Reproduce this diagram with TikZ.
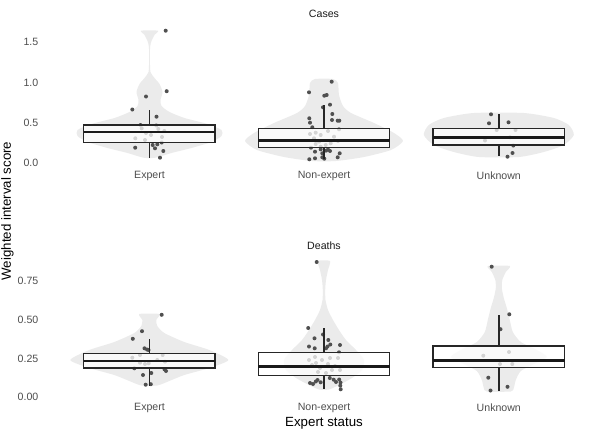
\documentclass[tikz,border=0pt]{standalone}
\usepackage{fontspec}
\setmainfont{Liberation Sans}
\definecolor{violcol}{HTML}{EBEBEB}
\definecolor{ptcol}{HTML}{505050}
\definecolor{tickcol}{HTML}{4D4D4D}
\definecolor{boxcol}{HTML}{262626}
\tikzset{
  violin/.style={fill=violcol},
  pt/.style={fill=ptcol},
  whisk/.style={draw=boxcol, line width=1.5pt},
  bx/.style={draw=boxcol, line width=1.4pt, fill=white, fill opacity=0.75},
  med/.style={draw=black!90, line width=2.5pt},
  ticklab/.style={font=\fontsize{10.6}{12}\selectfont, text=tickcol, inner sep=0pt},
  striplab/.style={font=\fontsize{10.6}{12}\selectfont, text=black!90, inner sep=0pt},
  axtitle/.style={font=\fontsize{13.3}{15}\selectfont, text=black, inner sep=0pt}
}
\newcommand\pts[1]{\foreach \p in {#1} {\fill[pt] \p circle[radius=2pt];}}
\newcommand\bxp[6]{%
  \draw[whisk] (#1,#2) -- (#1,#3);
  \draw[whisk] (#1,#5) -- (#1,#6);
  \path[bx] ({#1-65.7},#3) rectangle ({#1+65.7},#5);
  \draw[med] ({#1-65.7},#4) -- ({#1+65.7},#4);}
\begin{document}
\begin{tikzpicture}[x=1pt,y=-1pt]
\useasboundingbox (0,0) rectangle (602,436);

% ---------- violins: Cases ----------
\begin{scope}[shift={(149.5,0)}]
\fill[violin] plot[smooth cycle, tension=0.4] coordinates {
(8.5,30.7) (5,35) (2,41) (0.6,47) (0.4,60) (1,72) (5,78) (10,84) (13,92) (11,100) (12,106) (20,112) (35,118) (58,124) (72,130) (72,136) (62,142) (42,148) (22,153) (6,157.7)
(-6,157.7) (-22,153) (-42,148) (-62,142) (-72,136) (-72,130) (-58,124) (-35,118) (-20,112) (-12,106) (-11,100) (-13,92) (-10,84) (-5,78) (-1,72) (-0.4,60) (-0.6,47) (-2,41) (-5,35) (-8.5,30.7)};
\end{scope}
\begin{scope}[shift={(324,0)}]
\fill[violin] plot[smooth cycle, tension=0.4] coordinates {
(9,79) (14,83) (15,95) (19,106) (27,113) (50,123) (70,133) (79,141) (67,150) (40,157) (12,161)
(-12,161) (-40,157) (-67,150) (-79,141) (-70,133) (-50,123) (-27,113) (-19,106) (-15,95) (-14,83) (-9,79)};
\end{scope}
\begin{scope}[shift={(498.8,0)}]
\fill[violin] plot[smooth cycle, tension=0.4] coordinates {
(25,113) (55,118) (70,125) (75,135) (65,145) (45,152) (20,157)
(-20,157) (-45,152) (-65,145) (-75,135) (-70,125) (-55,118) (-25,113)};
\end{scope}

% ---------- violins: Deaths ----------
\begin{scope}[shift={(149.3,0)}]
\fill[violin] plot[smooth cycle, tension=0.4] coordinates {
(10,314) (7,320) (8,326) (15,333) (35,342) (60,350) (79,360) (60,368) (35,375) (20,381) (8,385.5)
(-8,385.5) (-20,381) (-35,375) (-60,368) (-79,360) (-60,350) (-35,342) (-15,333) (-8,326) (-7,320) (-10,314)};
\end{scope}
\begin{scope}[shift={(324,0)}]
\fill[violin] plot[smooth cycle, tension=0.4] coordinates {
(6,261) (4,270) (2,280) (1.2,290) (1.5,300) (4,310) (9,320) (15,330) (22,340) (32,350) (40,360) (38,370) (28,378) (15,385) (5,389.5)
(-5,389.5) (-15,385) (-28,378) (-38,370) (-40,360) (-32,350) (-22,340) (-15,330) (-9,320) (-4,310) (-1.5,300) (-1.2,290) (-2,280) (-4,270) (-6,261)};
\end{scope}
\begin{scope}[shift={(498.8,0)}]
\fill[violin] plot[smooth cycle, tension=0.4] coordinates {
(11,266) (7,272) (3.5,280) (3,288) (5,298) (8,308) (11,320) (14,332) (22,342) (38,350) (48,357) (35,364) (22,371) (17,380) (15,388) (12,391.5)
(-12,391.5) (-15,388) (-17,380) (-22,371) (-35,364) (-48,357) (-38,350) (-22,342) (-14,332) (-11,320) (-8,308) (-5,298) (-3,288) (-3.5,280) (-7,272) (-11,266)};
\end{scope}

% ---------- points ----------
\pts{(165.7,30.7),(166.7,91.2),(146,96.5),(132.3,109.5),(156.5,116.7),(140.5,125),(156.3,125.5),(135.2,147.7),(152.7,145),(155,148.3),(157.3,144.3),(161.7,142.5),(163.3,151),(160,157.7),
(141.7,128.3),(158.3,129),(164.3,131),(135.3,138.3),(145,140),(151,135),(146,133),(162,137)}
\pts{(331.7,81.7),(309,92.3),(324.3,95.7),(326.7,95),(323,107.3),(330,104.7),(332.3,114),(309.3,118.3),(310,122.7),(332,120),(337.7,120.7),(339.3,120.7),(312.3,127.3),(339,129.3),(315,151.7),(311,147.7),(320.7,149.3),(322.3,153.3),(326,150.7),(330,151),(339.7,153.3),(337.7,157.3),(322.3,157.3),(315,158.3),(309.3,159.3),(324.3,158.7),(328,149.5),
(315.7,132.7),(320.7,135),(314,138.3),(319,141.7),(330.7,143.3),(325.7,145),(334,136.7),(320.7,146.7),(315.7,144),(310,134),(338,141),(328,131)}
\pts{(491,114.3),(489,123.3),(508.5,122.3),(512.5,153),(507.5,156.7),
(496.7,130),(515.5,130),(485,140.5),(510,137.3),(513.3,145.5)}
\pts{(161.7,314.8),(142,331.2),(132.8,338.8),(144.5,348.3),(147,349.5),(148.5,350),(134.3,368.3),(143,375),(151.3,373),(164.5,369.3),(166,371),(145.7,384.7),(150.8,384.2),
(132.3,357.7),(140,355),(140,362.7),(145,364),(148.7,363.3),(157.3,360),(162.7,355),(165,361.7)}
\pts{(316.7,262),(308.2,328),(323,334.5),(314.5,338.3),(328.3,340),(309,346.5),(314.7,348.3),(327.5,346.5),(330.3,344.5),(340,345),(339,352.3),(326,348.3),(310,383),(313,384),(315.8,381.5),(317.5,380),(320.7,382.3),(329.8,378),(333.7,379.7),(339.2,379.5),(340.5,382.5),(340.3,385.7),(340.7,389.3),(336,382),
(315,357),(322,360),(330,358),(338,358),(312,365),(320,368),(332,370),(318,372),(326,373),(335,366),(309,360),(340,370),(316,363),(328,364)}
\pts{(491.7,266.7),(509.3,314.3),(500.5,329.2),(488.3,377.7),(507.5,386.8),(490.5,390.5),
(483.3,355.7),(509,352),(500,364),(512.3,364)}

% ---------- boxplots ----------
\bxp{149.3}{110}{125}{132}{142.7}{157.7}
\bxp{324}{105}{128.7}{140.3}{147.3}{159.3}
\bxp{498.8}{114.3}{128.3}{137.3}{145}{155.7}
\bxp{149.3}{339.2}{353.3}{361}{368}{385.5}
\bxp{324}{328.3}{352.3}{366.3}{375.7}{389}
\bxp{498.8}{315}{346}{360.5}{367.7}{390.8}

% ---------- axis labels ----------
\node[ticklab, anchor=east] (t15) at (38.5,42.4) {1.5};
\node[ticklab, anchor=east] (t10) at (38.5,82.7) {1.0};
\node[ticklab, anchor=east] (t05) at (38.5,123) {0.5};
\node[ticklab, anchor=east] (t00) at (38.5,163.3) {0.0};
\node[ticklab, anchor=east] (b075) at (38.5,280.6) {0.75};
\node[ticklab, anchor=east] (b050) at (38.5,319.5) {0.50};
\node[ticklab, anchor=east] (b025) at (38.5,358.4) {0.25};
\node[ticklab, anchor=east] (b000) at (38.5,397.3) {0.00};

\node[ticklab] (cE) at (149.5,176) {Expert};
\node[ticklab] (cN) at (324,176) {Non-expert};
\node[ticklab] (cU) at (498.8,176) {Unknown};
\node[ticklab] (dE) at (149.5,407.7) {Expert};
\node[ticklab] (dN) at (324,407.7) {Non-expert};
\node[ticklab] (dU) at (498.8,407.7) {Unknown};

\node[striplab] (cases) at (324,14) {Cases};
\node[striplab] (deaths) at (324,245.7) {Deaths};

\node[axtitle] (xt) at (324,423) {Expert status};
\node[axtitle, rotate=90] (yt) at (7.5,211) {Weighted interval score};
\end{tikzpicture}
\end{document}
